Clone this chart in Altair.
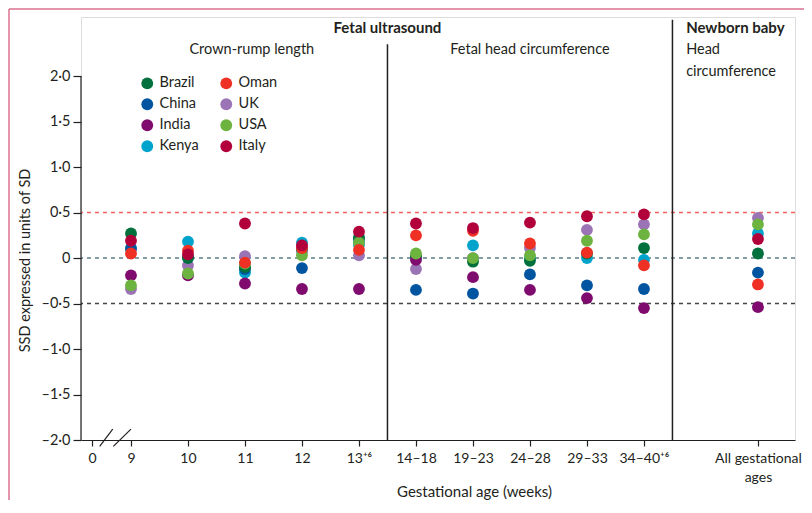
import altair as alt
import pandas as pd

# ---------------- data ----------------
countries = ["Brazil", "China", "India", "Kenya", "Oman", "UK", "USA", "Italy"]
colors = ["#00703C", "#0054A0", "#7F0B6E", "#00A3CC", "#EE3124", "#9A74B4", "#6DB33F", "#B2003A"]

categories = ["9", "10", "11", "12", "13⁺⁶", "14–18", "19–23", "24–28", "29–33", "34–40⁺⁶",
              "All gestational ages"]

# SSD values (units of SD) per category, one list per country
brazil = [0.27, 0.00, -0.10, 0.10, 0.23, 0.02, -0.04, -0.03, 0.05, 0.11, 0.05]
china = [0.10, 0.01, -0.12, -0.11, 0.20, -0.35, -0.39, -0.18, -0.30, -0.34, -0.16]
india = [-0.19, -0.19, -0.28, -0.34, -0.34, -0.02, -0.21, -0.35, -0.44, -0.55, -0.54]
kenya = [0.11, 0.18, -0.16, 0.17, 0.15, 0.00, 0.14, 0.00, 0.00, -0.02, 0.27]
oman = [0.05, 0.08, -0.05, 0.11, 0.09, 0.25, 0.30, 0.16, 0.06, -0.08, -0.29]
uk = [-0.34, -0.08, 0.02, 0.07, 0.03, -0.12, 0.00, 0.11, 0.31, 0.37, 0.44]
usa = [-0.30, -0.17, -0.06, 0.03, 0.17, 0.05, 0.00, 0.03, 0.19, 0.26, 0.37]
italy = [0.19, 0.04, 0.38, 0.14, 0.29, 0.38, 0.33, 0.39, 0.46, 0.48, 0.21]

series = {"Brazil": brazil, "China": china, "India": india, "Kenya": kenya,
          "Oman": oman, "UK": uk, "USA": usa, "Italy": italy}

# draw order (bottom -> top)
draw_order = ["UK", "Kenya", "China", "Brazil", "India", "USA", "Oman", "Italy"]

ref_values = [0.5, 0.0, -0.5]
ref_colors = ["#F0635A", "#5E7E8A", "#444444"]

# ---------------- layout helpers ----------------
cat_pos = list(range(1, 11)) + [12]
zero_pos = 0.316
x_min, x_max = 0.123, 12.65
y_min, y_max = -2.0, 2.65

rows = []
for order, c in enumerate(draw_order):
    for pos, v in zip(cat_pos, series[c]):
        rows.append({"country": c, "x": pos, "ssd": v, "order": order})
df = pd.DataFrame(rows)

font = "Lato"
fs = 14.5
ink = "#231F20"

xscale = alt.Scale(domain=[x_min, x_max], nice=False, zero=False)
yscale = alt.Scale(domain=[y_min, y_max], nice=False, zero=False)

label_list = "[" + ",".join("'" + c + "'" for c in categories[:-1]) + "]"
x_label_expr = (f"datum.value < 0.5 ? '0' : datum.value > 11 ? ['All gestational','ages'] : "
                f"{label_list}[round(datum.value) - 1]")
y_label_expr = ("datum.value == 0 ? '0' : (datum.value < 0 ? '–' : '') + "
                "replace(format(abs(datum.value), '.1f'), '.', '·')")

base = alt.Chart(df)

color_scale = alt.Scale(domain=countries, range=colors)

points = base.mark_circle(size=140, opacity=1).encode(
    x=alt.X("x:Q", scale=xscale,
            axis=alt.Axis(values=[zero_pos] + cat_pos, labelExpr=x_label_expr,
                          title="Gestational age (weeks)", grid=False,
                          tickSize=6, labelPadding=5, domainColor=ink, tickColor=ink,
                          domainWidth=1.2, tickWidth=1.2, labelColor=ink,
                          labelFontSize=14, labelFont=font, labelLineHeight=19,
                          labelOverlap=False, labelBound=False,
                          titleFont=font, titleFontSize=15, titleFontWeight="normal",
                          titleColor=ink, titleX=393, titleY=44, titleBaseline="top")),
    y=alt.Y("ssd:Q", scale=yscale,
            axis=alt.Axis(values=[-2, -1.5, -1, -0.5, 0, 0.5, 1, 1.5, 2],
                          labelExpr=y_label_expr, domain=False, grid=False,
                          tickSize=8, labelPadding=3, tickColor=ink, tickWidth=1.2,
                          labelColor=ink, labelFontSize=fs, labelFont=font,
                          title="SSD expressed in units of SD", titleFont=font,
                          titleFontSize=fs, titleFontWeight="normal", titleColor=ink,
                          titleY=243, titleX=-49, titleAngle=-90)),
    color=alt.Color("country:N", scale=color_scale,
                    legend=alt.Legend(title=None, orient="none", legendX=59, legendY=59,
                                      columns=2, symbolType="circle", symbolSize=140,
                                      symbolStrokeWidth=0, labelFont=font,
                                      labelFontSize=fs, labelColor=ink,
                                      columnPadding=20, rowPadding=6, labelOffset=5,
                                      padding=0)),
    order=alt.Order("order:Q"),
)

ref_df = pd.DataFrame({"v": ref_values, "c": ref_colors})
refs = alt.Chart(ref_df).mark_rule(strokeDash=[4, 4], strokeWidth=1.5).encode(
    y=alt.Y("v:Q", scale=yscale),
    color=alt.Color("c:N", scale=None),
)

# y axis line from -2 to 2
yaxis_line = alt.Chart(pd.DataFrame({"a": [-2.0], "b": [2.0]})).mark_rule(
    color=ink, strokeWidth=1.2).encode(
    x=alt.value(0), y=alt.Y("a:Q", scale=yscale), y2="b:Q")

# section separators
sep_df = pd.DataFrame({"x": [5.5, 10.5], "y": [-2.0, -2.0], "y2": [2.35, 2.62]})
seps = alt.Chart(sep_df).mark_rule(color=ink, strokeWidth=1.5).encode(
    x=alt.X("x:Q", scale=xscale), y=alt.Y("y:Q", scale=yscale), y2="y2:Q")

# axis break marks
brk_df = pd.DataFrame({"x": [0.45, 0.69], "x2": [0.68, 1.0], "y": [-2.07, -2.07], "y2": [-1.88, -1.88]})
brk = alt.Chart(brk_df).mark_rule(color=ink, strokeWidth=1.2).encode(
    x=alt.X("x:Q", scale=xscale), x2="x2:Q",
    y=alt.Y("y:Q", scale=yscale), y2="y2:Q")

# section headings
head_bold = pd.DataFrame({"x": [5.5], "y": [2.53], "t": ["Fetal ultrasound"]})
head_bold_l = pd.DataFrame({"x": [10.74], "y": [2.53], "t": ["Newborn baby"]})
head_sub = pd.DataFrame({"x": [3.12, 8.0], "y": [2.29, 2.29],
                         "t": ["Crown-rump length", "Fetal head circumference"]})
head_sub_l = pd.DataFrame({"x": [10.74, 10.74], "y": [2.29, 2.05], "t": ["Head", "circumference"]})

t1 = alt.Chart(head_bold).mark_text(font=font, fontSize=15, fontWeight="bold", color=ink,
                                    align="center", baseline="middle").encode(
    x=alt.X("x:Q", scale=xscale), y=alt.Y("y:Q", scale=yscale), text="t:N")
t2 = alt.Chart(head_bold_l).mark_text(font=font, fontSize=15, fontWeight="bold", color=ink,
                                      align="left", baseline="middle").encode(
    x=alt.X("x:Q", scale=xscale), y=alt.Y("y:Q", scale=yscale), text="t:N")
t3 = alt.Chart(head_sub).mark_text(font=font, fontSize=fs, color=ink,
                                   align="center", baseline="middle").encode(
    x=alt.X("x:Q", scale=xscale), y=alt.Y("y:Q", scale=yscale), text="t:N")
t4 = alt.Chart(head_sub_l).mark_text(font=font, fontSize=fs, color=ink,
                                     align="left", baseline="middle").encode(
    x=alt.X("x:Q", scale=xscale), y=alt.Y("y:Q", scale=yscale), text="t:N")

# decorative frame (left and top edges)
frame_l = alt.Chart(pd.DataFrame({"k": [0]})).mark_rule(color="#D9728F", strokeWidth=1.5).encode(
    x=alt.value(-72), y=alt.value(-8), y2=alt.value(500))
frame_t = alt.Chart(pd.DataFrame({"k": [0]})).mark_rule(color="#D9728F", strokeWidth=1.5).encode(
    x=alt.value(-72), x2=alt.value(730), y=alt.value(-8))

chart = alt.layer(frame_l, frame_t, refs, seps, yaxis_line, brk, t1, t2, t3, t4, points).properties(
    width=714, height=423,
    autosize=alt.AutoSizeParams(type="none"),
    padding={"left": 73, "top": 9, "right": 9, "bottom": 60},
).configure_view(stroke=None).configure(background="white")

chart.save("out.html", embed_options={"renderer": "svg", "actions": False})
